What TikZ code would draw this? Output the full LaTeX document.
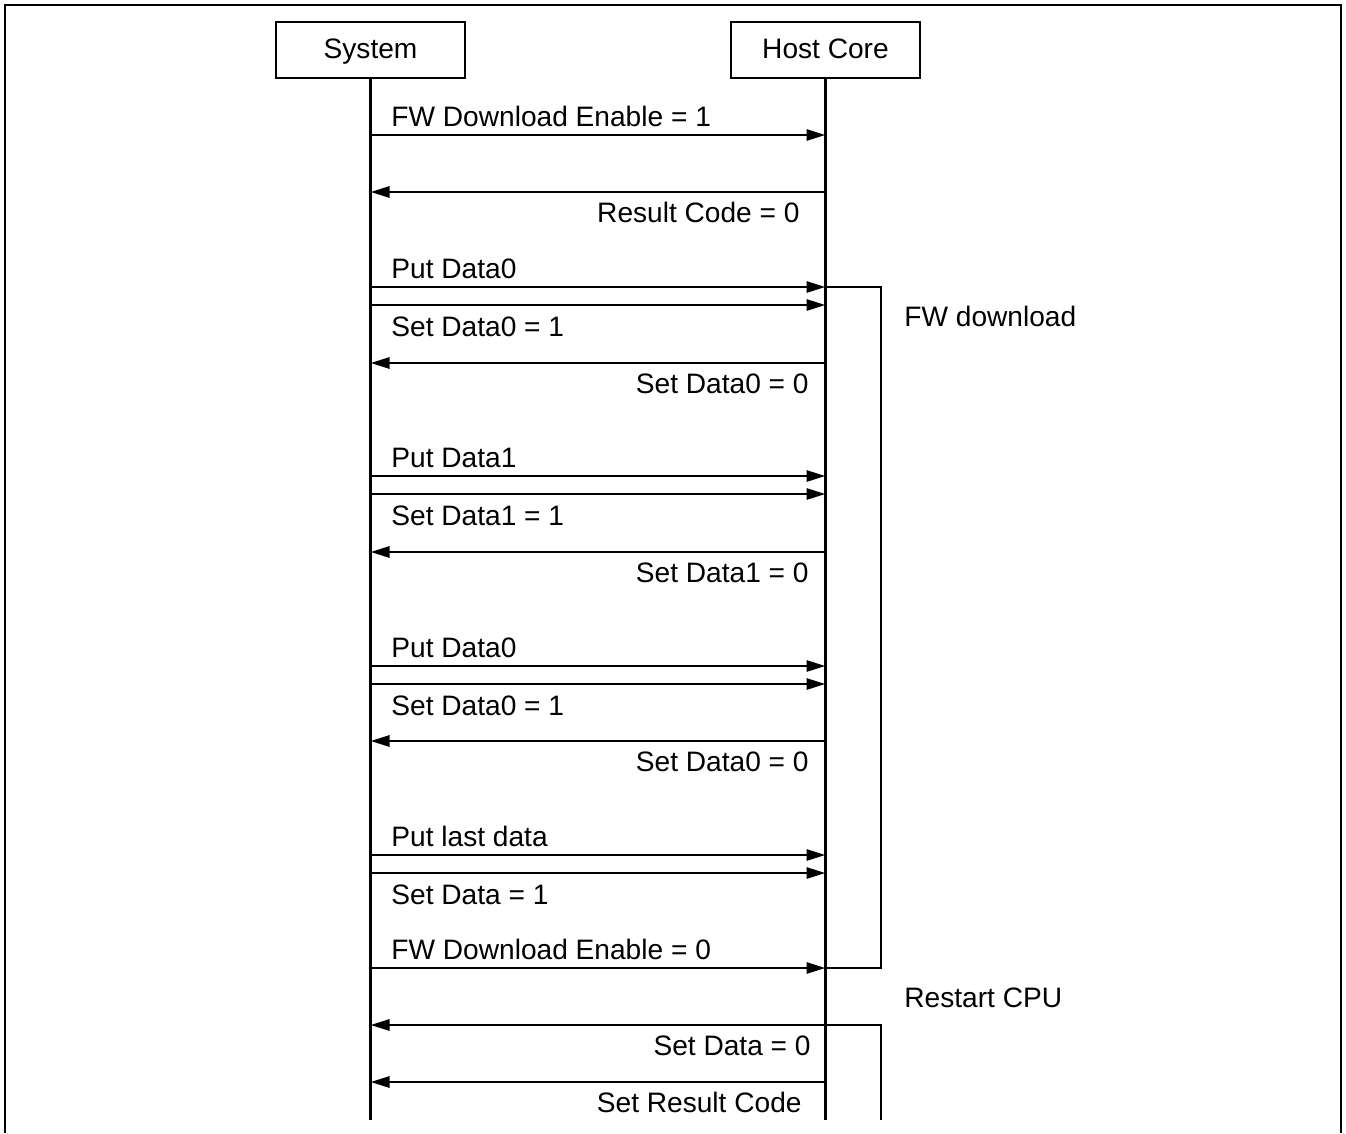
\documentclass[tikz,border=0pt]{standalone}
\usepackage{fontspec}
\setmainfont{Liberation Sans}
\usetikzlibrary{arrows.meta}

\begin{document}
\begin{tikzpicture}[
  x=0.02cm, y=-0.02cm, line width=1.6pt,
  head/.style={draw, minimum width=3.78cm, minimum height=1.12cm, inner sep=0pt,
    text height=12pt, text depth=2pt, font=\fontsize{16}{19}\selectfont},
  msg/.style={-{Triangle[length=0.38cm,width=0.22cm]}},
  lbl/.style={font=\fontsize{16}{19}\selectfont, inner sep=0pt},
]
\useasboundingbox (0,0) rectangle (1346,1133);
\draw (5,1133) -- (5,5) -- (1341,5) -- (1341,1133);

% lifelines
\node[head] (sys)  at (370.5,50) {System};
\node[head] (host) at (825.5,50) {Host Core};
\coordinate (sysend)  at (sys |- 0,1120);
\coordinate (hostend) at (host |- 0,1120);
\draw (sys) -- (sysend);
\draw (host) -- (hostend);

% system -> host, label above
\foreach \y/\txt in {135/FW Download Enable = 1, 287/Put Data0, 476/Put Data1,
                     666/Put Data0, 855/Put last data, 968/FW Download Enable = 0} {
  \draw[msg] (sys |- 0,\y) -- (host |- 0,\y);
  \node[lbl, anchor=base west] at (390,{\y-9}) {\txt};
}
% system -> host, label below
\foreach \y/\txt in {305/Set Data0 = 1, 494/Set Data1 = 1, 684/Set Data0 = 1, 873/Set Data = 1} {
  \draw[msg] (sys |- 0,\y) -- (host |- 0,\y);
  \node[lbl, anchor=base west] at (390,{\y+31}) {\txt};
}
% host -> system, label below
\foreach \y/\x/\txt in {192/801/Result Code = 0, 363/810/Set Data0 = 0, 552/810/Set Data1 = 0,
                        741/810/Set Data0 = 0, 1025/812/Set Data = 0, 1082/803/Set Result Code} {
  \draw[msg] (host |- 0,\y) -- (sys |- 0,\y);
  \node[lbl, anchor=base east] at (\x,{\y+30}) {\txt};
}

% phases
\draw (host |- 0,287) -| (881,968) -- (host |- 0,968);
\draw (host |- 0,1025) -| (881,1120);
\node[lbl, anchor=base west] (dl) at (903,326) {FW download};
\node[lbl, anchor=base west] (rs) at (903,1007) {Restart CPU};
\end{tikzpicture}
\end{document}
